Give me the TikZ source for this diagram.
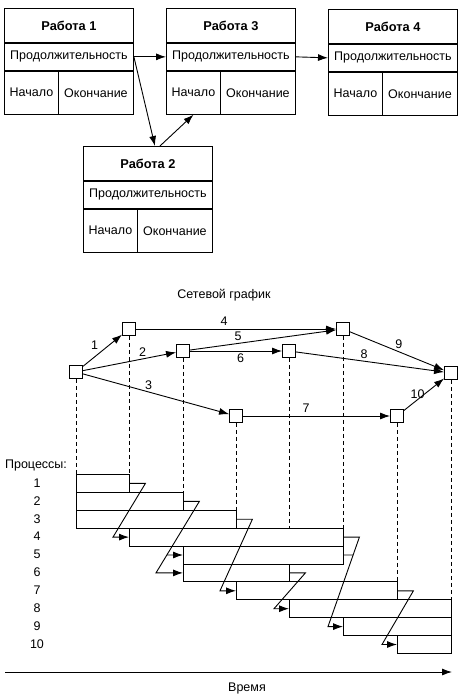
\documentclass[tikz,border=0pt]{standalone}
\usepackage{fontspec}
\setmainfont{Liberation Sans}
\usetikzlibrary{arrows.meta,calc}
\begin{document}
\begin{tikzpicture}[x=1pt,y=-1pt, font=\fontsize{12.5}{15}\selectfont, line width=0.9pt,
  tip/.style={-{Latex[length=10pt,width=7pt]}},
  wbtitle/.style={draw, minimum width=129pt, minimum height=34pt, inner sep=0pt, anchor=north west, font=\fontsize{12.8}{15}\selectfont\bfseries},
  wbdur/.style={draw, minimum width=129pt, minimum height=27pt, inner sep=0pt, anchor=north west},
  wbstart/.style={draw, minimum width=54pt, minimum height=43pt, inner sep=0pt, anchor=north west},
  wbend/.style={draw, minimum width=75pt, minimum height=43pt, inner sep=0pt, anchor=north east},
  evbox/.style={draw, minimum size=13pt, inner sep=0pt, fill=white},
  ganttbar/.style={draw, minimum height=17.9pt, inner sep=0pt, anchor=north west},
  elab/.style={inner sep=2pt},
  dsh/.style={line width=0.75pt, dash pattern=on 4pt off 3pt}
]
\useasboundingbox (0,0) rectangle (466,700);

% ---- work boxes ----
\foreach \n/\x/\y in {1/4/8, 3/166/8, 4/328/9, 2/83/146}{
  \node[wbtitle] (w\n t) at (\x,\y) {Работа \n};
  \node[wbdur] (w\n d) at (w\n t.south west) {Продолжительность};
  \node[wbstart] (w\n s) at (w\n d.south west) {Начало};
  \node[wbend] (w\n e) at (w\n d.south east) {Окончание};
}
\draw[tip] (w1d.east) -- (w3d.west);
\draw[tip] (w3d.east) -- (w4d.west);
\draw[tip] (w1d.east) -- ([xshift=7pt]w2t.north);
\draw[tip] ([xshift=12pt]w2t.north) -- (w3s.south);

% ---- network ----
\node (title) at (224,295) {Сетевой график};
\node[evbox] (n0) at (76,372) {};
\node[evbox] (nA) at (129,329) {};
\node[evbox] (nB) at (183,351) {};
\node[evbox] (nC) at (289,351) {};
\node[evbox] (nD) at (343,329) {};
\node[evbox] (nE) at (451,373) {};
\node[evbox] (nF) at (236,416) {};
\node[evbox] (nG) at (397,416) {};

\draw[tip] (n0) -- node[elab, pos=.45, above left] {1} (nA);
\draw[tip] (n0) -- node[elab, pos=.64, above] {2} (nB);
\draw[tip] (n0) -- node[elab, pos=.45, above] {3} (nF);
\draw[tip] (nA) -- node[elab, pos=.44, above, inner sep=3pt] {4} (nD);
\draw[tip] (nB) -- node[elab, pos=.33, above] {5} (nD);
\draw[tip] (nB) -- node[elab, pos=.55, below] {6} (nC);
\draw[tip] (nF) -- node[elab, pos=.43, above, inner sep=3pt] {7} (nG);
\draw[tip] (nC) -- node[elab, pos=.46, above] {8} (nE);
\draw[tip] (nD) -- node[elab, pos=.52, above, inner sep=3pt] {9} (nE);
\draw[tip] (nG) -- node[elab, pos=.5, left, xshift=3pt] {10} (nE);

% ---- gantt bars ----
\node[ganttbar, minimum width=53pt]  (b1)  at (76,474) {};
\node[ganttbar, minimum width=107pt] (b2)  at (76,491.9) {};
\node[ganttbar, minimum width=160pt] (b3)  at (76,509.8) {};
\node[ganttbar, minimum width=214pt] (b4)  at (129,527.7) {};
\node[ganttbar, minimum width=160pt] (b5)  at (183,545.6) {};
\node[ganttbar, minimum width=106pt] (b6)  at (183,563.5) {};
\node[ganttbar, minimum width=161pt] (b7)  at (236,581.4) {};
\node[ganttbar, minimum width=162pt] (b8)  at (289,599.3) {};
\node[ganttbar, minimum width=108pt] (b9)  at (343,617.2) {};
\node[ganttbar, minimum width=54pt]  (b10) at (397,635.1) {};

% dashed projections
\draw[dsh] (n0.south) -- (n0 |- b1.north);
\draw[dsh] (nA.south) -- (nA |- b1.north);
\draw[dsh] (nB.south) -- (nB |- b2.north);
\draw[dsh] (nF.south) -- (nF |- b3.north);
\draw[dsh] (nC.south) -- (nC |- b4.north);
\draw[dsh] (nD.south) -- (nD |- b4.north);
\draw[dsh] (nG.south) -- (nG |- b7.north);
\draw[dsh] (nE.south) -- (nE |- b8.north);

% zigzag dependencies
\draw[tip] (b1.east) -- ++(15.5,0) -- ([xshift=-16pt]b4.west) -- (b4.west);
\coordinate (z2a) at ($(b2.east)+(15.5,0)$);
\coordinate (z2b) at ($(b6.west)+(-27,0)$);
\draw[tip] (b2.east) -- (z2a) -- (z2b) -- (b6.west);
\draw[tip] ($(z2a)!0.75!(z2b)$) -- (b5.west);
\draw[tip] (b3.east) -- ++(15.5,0) -- ([xshift=-16pt]b7.west) -- (b7.west);
\coordinate (z4a) at ($(b4.east)+(15.5,0)$);
\coordinate (z4b) at ($(b9.west)+(-15,0)$);
\draw[tip] (b4.east) -- (z4a) -- (z4b) -- (b9.west);
\draw (b5.east) -- ($(z4a)!0.2!(z4b)$);
\draw[tip] (b6.east) -- ++(15.5,0) -- ([xshift=-15pt]b8.west) -- (b8.west);
\draw[tip] (b7.east) -- ++(15.5,0) -- ([xshift=-15pt]b10.west) -- (b10.west);

% row labels
\node (lp) at (36,465) {Процессы:};
\foreach \i in {1,...,10}{
  \node (l\i) at (37,{474+(\i-1)*17.9+8.95}) {\i};
}

% time axis
\coordinate (t0) at (5,672);
\coordinate (t1) at (452,672);
\draw[tip] (t0) -- (t1);
\node (tl) at (247,688) {Время};
\end{tikzpicture}
\end{document}
